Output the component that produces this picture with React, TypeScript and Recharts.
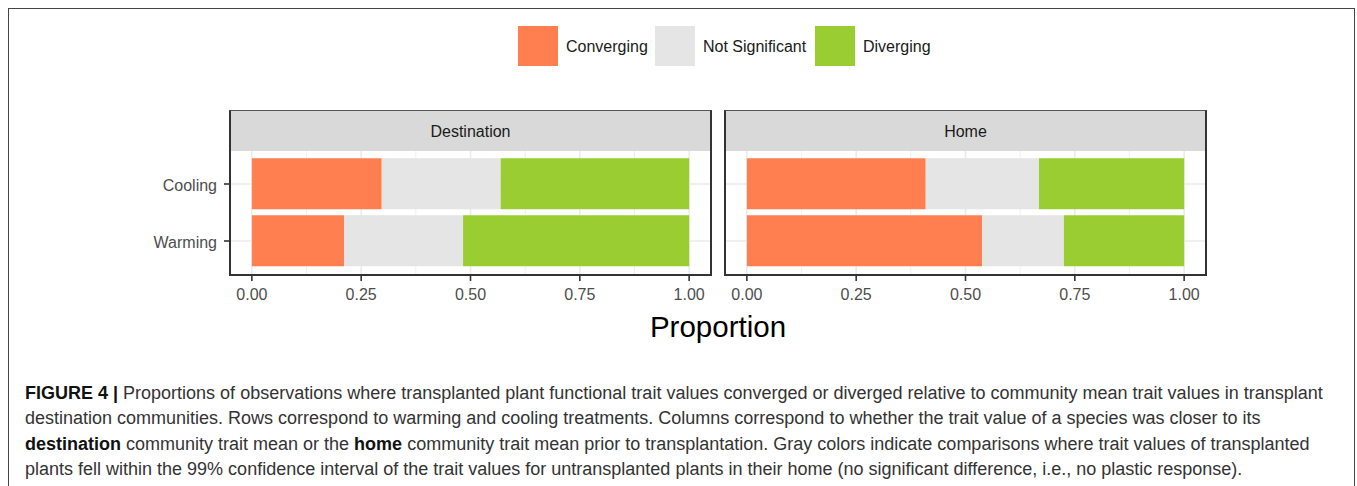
import React from "react";
import { Bar, BarChart, CartesianGrid, XAxis, YAxis } from "recharts";

const treatments = ["Cooling", "Warming"];
const seriesKeys = ["converging", "notSignificant", "diverging"];
const seriesNames = ["Converging", "Not Significant", "Diverging"];
const seriesColors = ["#FF7F50", "#E5E5E5", "#9ACD32"];

const destinationConverging = [0.297, 0.211];
const destinationNotSignificant = [0.272, 0.272];
const destinationDiverging = [0.431, 0.517];

const homeConverging = [0.409, 0.538];
const homeNotSignificant = [0.259, 0.187];
const homeDiverging = [0.332, 0.275];

const majorTicks = [0, 0.25, 0.5, 0.75, 1];
const minorTicks = [0.125, 0.375, 0.625, 0.875];
const X_DOMAIN: [number, number] = [-0.05, 1.05];

const buildRows = (conv: number[], ns: number[], div: number[]) =>
  treatments.map((t, i) => ({
    treatment: t,
    converging: conv[i],
    notSignificant: ns[i],
    diverging: div[i],
  }));

const destinationRows = buildRows(destinationConverging, destinationNotSignificant, destinationDiverging);
const homeRows = buildRows(homeConverging, homeNotSignificant, homeDiverging);

const FONT = "'Liberation Sans', Arial, sans-serif";
const PLOT_W = 481;
const PLOT_H = 125;

// minor grid: map data values to pixels inside the plot area
const minorGrid = ({ offset }: any) =>
  minorTicks.map(
    (v) => offset.left + ((v - X_DOMAIN[0]) / (X_DOMAIN[1] - X_DOMAIN[0])) * offset.width
  );

function Panel({
  rows,
  title,
  left,
  showY,
}: {
  rows: typeof destinationRows;
  title: string;
  left: number;
  showY: boolean;
}) {
  const yW = showY ? 100 : 0;
  const chartLeft = left - 20 - yW;
  const chartW = 20 + yW + PLOT_W + 30;
  return (
    <>
      <div style={{ position: "absolute", left: chartLeft, top: 140, width: chartW, height: 180 }}>
        <BarChart
          width={chartW}
          height={180}
          data={rows}
          layout="vertical"
          margin={{ top: 10, right: 30, bottom: 15, left: 20 }}
          barCategoryGap="5%"
        >
          <CartesianGrid stroke="#EBEBEB" strokeWidth={1.6} />
          <CartesianGrid
            stroke="#EBEBEB"
            strokeWidth={0.8}
            horizontal={false}
            verticalCoordinatesGenerator={minorGrid}
          />
          <XAxis
            type="number"
            domain={X_DOMAIN}
            ticks={majorTicks}
            allowDataOverflow
            axisLine={false}
            tickLine={{ stroke: "#333333", strokeWidth: 1.6 }}
            tickSize={6}
            tickMargin={8}
            height={30}
            tickFormatter={(v: number) => v.toFixed(2)}
            tick={{ fill: "#4D4D4D", fontSize: 16, fontFamily: FONT }}
          />
          <YAxis
            type="category"
            dataKey="treatment"
            hide={!showY}
            width={yW}
            padding={{ top: 5.5, bottom: 5.5 }}
            axisLine={false}
            tickLine={{ stroke: "#333333", strokeWidth: 1.6 }}
            tickSize={6}
            tickMargin={7}
            tick={{ fill: "#4D4D4D", fontSize: 16, fontFamily: FONT, dy: 1 }}
          />
          {seriesKeys.map((k, i) => (
            <Bar
              key={k}
              dataKey={k}
              stackId="s"
              name={seriesNames[i]}
              fill={seriesColors[i]}
              isAnimationActive={false}
            />
          ))}
        </BarChart>
      </div>
      <div
        style={{
          position: "absolute",
          left: left - 1,
          top: 150 - 1,
          width: PLOT_W + 2,
          height: PLOT_H + 2,
          border: "2px solid #333333",
          boxSizing: "border-box",
          pointerEvents: "none",
        }}
      />
      <div
        style={{
          position: "absolute",
          left: left - 1,
          top: 110,
          width: PLOT_W + 2,
          height: 41,
          background: "#D9D9D9",
          borderTop: "1.5px solid #555555",
          borderLeft: "2px solid #333333",
          borderRight: "2px solid #333333",
          boxSizing: "border-box",
          display: "flex",
          alignItems: "center",
          justifyContent: "center",
          paddingTop: 2,
          fontFamily: FONT,
          fontSize: 16,
          color: "#1A1A1A",
        }}
      >
        {title}
      </div>
    </>
  );
}

function Legend() {
  const keyLeft = [518, 655, 815];
  return (
    <>
      {seriesNames.map((n, i) => (
        <React.Fragment key={n}>
          <div
            style={{
              position: "absolute",
              left: keyLeft[i],
              top: 26,
              width: 40,
              height: 40,
              background: seriesColors[i],
            }}
          />
          <div
            style={{
              position: "absolute",
              left: keyLeft[i] + 48,
              top: 37,
              fontFamily: FONT,
              fontSize: 16,
              lineHeight: "20px",
              color: "#1A1A1A",
              whiteSpace: "nowrap",
            }}
          >
            {n}
          </div>
        </React.Fragment>
      ))}
    </>
  );
}

const captionStyle: React.CSSProperties = {
  position: "absolute",
  left: 25,
  fontFamily: FONT,
  fontSize: 18,
  lineHeight: "25px",
  color: "#333333",
  whiteSpace: "nowrap",
};

export default function App() {
  return (
    <div
      style={{
        position: "absolute",
        left: 0,
        top: 0,
        width: 1357,
        height: 486,
        overflow: "hidden",
        background: "#FFFFFF",
      }}
    >
      <div
        style={{
          position: "absolute",
          left: 8,
          top: 8,
          width: 1347,
          height: 500,
          border: "1.5px solid #444444",
          boxSizing: "border-box",
        }}
      />
      <Legend />
      <Panel rows={destinationRows} title="Destination" left={230} showY />
      <Panel rows={homeRows} title="Home" left={725} showY={false} />
      <div
        style={{
          position: "absolute",
          left: 568,
          width: 300,
          top: 309,
          textAlign: "center",
          fontFamily: FONT,
          fontSize: 29.5,
          lineHeight: "36px",
          color: "#000000",
        }}
      >
        Proportion
      </div>
      <div style={{ ...captionStyle, top: 381 }}>
        <b style={{ color: "#111" }}>FIGURE 4 |</b> Proportions of observations where transplanted plant functional
        trait values converged or diverged relative to community mean trait values in transplant
      </div>
      <div style={{ ...captionStyle, top: 406 }}>
        destination communities. Rows correspond to warming and cooling treatments. Columns correspond to whether the
        trait value of a species was closer to its
      </div>
      <div style={{ ...captionStyle, top: 432 }}>
        <b style={{ color: "#111" }}>destination</b> community trait mean or the <b style={{ color: "#111" }}>home</b>{" "}
        community trait mean prior to transplantation. Gray colors indicate comparisons where trait values of
        transplanted
      </div>
      <div style={{ ...captionStyle, top: 457 }}>
        plants fell within the 99% confidence interval of the trait values for untransplanted plants in their home (no
        significant difference, i.e., no plastic response).
      </div>
    </div>
  );
}
